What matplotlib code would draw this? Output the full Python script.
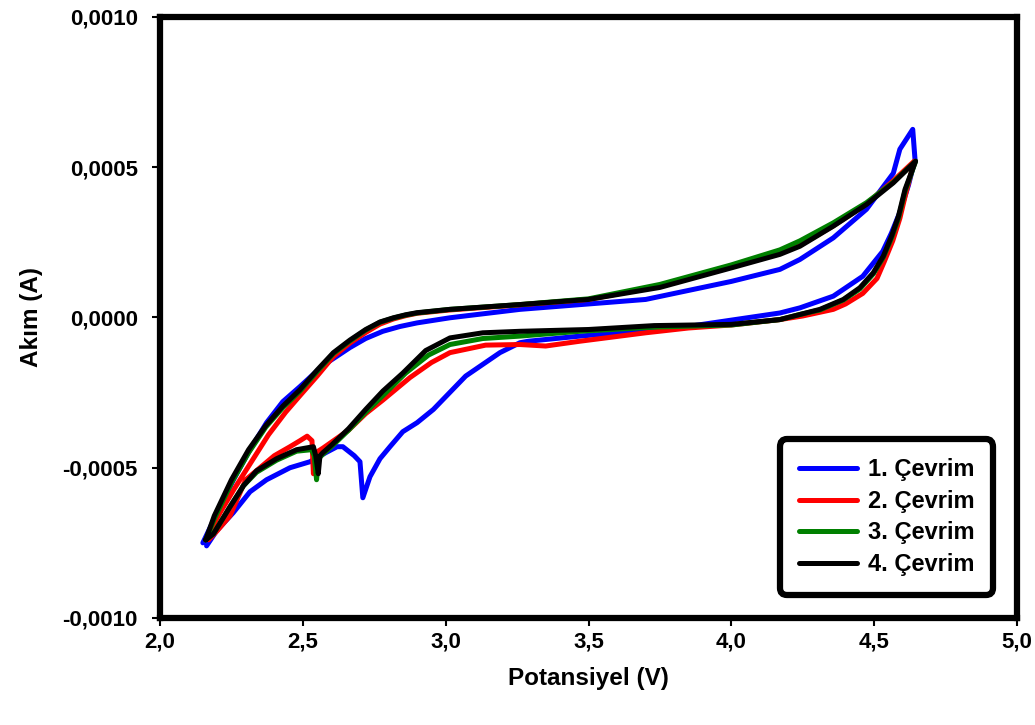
import matplotlib
matplotlib.use('Agg')
import matplotlib.pyplot as plt
import numpy as np

plt.rcParams['font.family'] = ['Liberation Sans', 'DejaVu Sans']
plt.rcParams['font.weight'] = 'bold'

# potential (V) and current (x1e-4 A), loop order:
# anodic sweep 2.16 -> 4.64, then cathodic sweep back to 2.16
v1 = [2.15, 2.21, 2.257, 2.315, 2.373, 2.43, 2.49, 2.57, 2.665, 2.72, 2.78, 2.84, 2.90, 3.015, 3.26,
      3.5, 3.7, 4.0, 4.17, 4.24, 4.357, 4.473, 4.567, 4.59, 4.635,
      4.643, 4.62, 4.59, 4.56, 4.53, 4.46, 4.357, 4.24, 4.17, 3.82, 3.47, 3.29, 3.26, 3.19, 3.07, 2.957,
      2.90, 2.85, 2.805, 2.77, 2.735, 2.71, 2.70, 2.68, 2.64, 2.62, 2.58, 2.525, 2.455, 2.373, 2.315,
      2.256, 2.198, 2.163]
i1 = [-7.5, -6.3, -5.4, -4.4, -3.5, -2.8, -2.3, -1.6, -1.0, -0.7, -0.46, -0.3, -0.18, -0.01, 0.27,
      0.45, 0.6, 1.2, 1.6, 1.93, 2.65, 3.6, 4.8, 5.6, 6.26,
      5.26, 4.4, 3.5, 2.8, 2.2, 1.37, 0.71, 0.32, 0.15, -0.34, -0.62, -0.79, -0.84, -1.17, -1.95, -3.06,
      -3.5, -3.8, -4.3, -4.7, -5.3, -6.0, -4.8, -4.6, -4.3, -4.3, -4.5, -4.8, -5.0, -5.4, -5.8,
      -6.5, -7.1, -7.6]

v2 = [2.17, 2.21, 2.26, 2.32, 2.38, 2.44, 2.49, 2.55, 2.607, 2.665, 2.72, 2.77, 2.817, 2.86, 2.90,
      3.015, 3.26, 3.5, 3.75, 4.0, 4.17, 4.24, 4.357, 4.473, 4.567, 4.64,
      4.61, 4.59, 4.565, 4.535, 4.51, 4.46, 4.40, 4.357, 4.25, 4.17, 4.0, 3.85, 3.70, 3.47, 3.35, 3.26,
      3.14, 3.015, 2.95, 2.875, 2.78, 2.72, 2.66, 2.60, 2.57, 2.545, 2.537, 2.532, 2.515, 2.49, 2.455,
      2.40, 2.35, 2.30, 2.245, 2.20, 2.17]
i2 = [-7.2, -6.5, -5.7, -4.8, -3.9, -3.15, -2.6, -1.95, -1.3, -0.85, -0.5, -0.22, -0.05, 0.06, 0.14,
      0.25, 0.42, 0.6, 1.05, 1.7, 2.15, 2.4, 3.05, 3.78, 4.55, 5.2,
      4.1, 3.3, 2.55, 1.85, 1.3, 0.8, 0.45, 0.27, 0.05, -0.07, -0.25, -0.35, -0.51, -0.79, -0.95, -0.9,
      -0.92, -1.17, -1.5, -2.0, -2.75, -3.2, -3.75, -4.15, -4.35, -4.5, -5.2, -4.1, -3.95, -4.1, -4.3,
      -4.6, -5.0, -5.4, -6.6, -7.1, -7.4]

v3 = [2.16, 2.19, 2.25, 2.31, 2.37, 2.43, 2.49, 2.55, 2.607, 2.665, 2.72, 2.77, 2.817, 2.86, 2.90,
      3.015, 3.26, 3.5, 3.75, 4.0, 4.17, 4.24, 4.357, 4.473, 4.567, 4.645,
      4.608, 4.585, 4.561, 4.532, 4.497, 4.45, 4.392, 4.31, 4.24, 4.17, 4.0, 3.73, 3.47, 3.26, 3.13,
      3.015, 2.94, 2.86, 2.78, 2.72, 2.66, 2.60, 2.57, 2.555, 2.548, 2.54, 2.53, 2.478, 2.408, 2.338,
      2.292, 2.245, 2.187, 2.16]
i3 = [-7.4, -6.7, -5.5, -4.5, -3.65, -3.0, -2.45, -1.8, -1.2, -0.78, -0.42, -0.16, -0.02, 0.08, 0.15,
      0.27, 0.43, 0.62, 1.1, 1.75, 2.25, 2.55, 3.15, 3.82, 4.5, 5.2,
      4.2, 3.3, 2.65, 2.0, 1.45, 0.95, 0.58, 0.25, 0.1, -0.07, -0.25, -0.32, -0.46, -0.62, -0.7,
      -0.9, -1.25, -1.85, -2.6, -3.15, -3.75, -4.3, -4.55, -4.7, -5.4, -4.6, -4.4, -4.45, -4.75, -5.15,
      -5.6, -6.3, -7.2, -7.4]

v4 = [2.16, 2.19, 2.25, 2.31, 2.37, 2.43, 2.49, 2.55, 2.607, 2.665, 2.72, 2.77, 2.817, 2.86, 2.90,
      3.015, 3.26, 3.5, 3.75, 4.0, 4.17, 4.24, 4.357, 4.473, 4.567, 4.645,
      4.608, 4.585, 4.561, 4.532, 4.497, 4.45, 4.392, 4.31, 4.24, 4.17, 4.0, 3.73, 3.5, 3.26, 3.13,
      3.015, 2.93, 2.85, 2.78, 2.72, 2.66, 2.60, 2.57, 2.56, 2.554, 2.545, 2.537, 2.478, 2.408, 2.338,
      2.292, 2.245, 2.187, 2.16]
i4 = [-7.4, -6.6, -5.4, -4.4, -3.6, -2.95, -2.4, -1.75, -1.17, -0.75, -0.4, -0.15, -0.01, 0.09, 0.16,
      0.27, 0.43, 0.6, 1.0, 1.65, 2.1, 2.37, 3.04, 3.76, 4.48, 5.2,
      4.26, 3.37, 2.71, 2.04, 1.49, 0.99, 0.6, 0.27, 0.1, -0.07, -0.23, -0.27, -0.4, -0.46, -0.51,
      -0.68, -1.1, -1.85, -2.45, -3.06, -3.7, -4.25, -4.5, -4.6, -5.2, -4.6, -4.3, -4.4, -4.7, -5.1,
      -5.6, -6.3, -7.2, -7.4]

labels = ['1. Çevrim', '2. Çevrim', '3. Çevrim', '4. Çevrim']
colors = ['#0000ff', '#ff0000', '#008000', '#000000']

fig = plt.figure(figsize=(10.35, 7.25), dpi=100)
ax = fig.add_axes([0.1546, 0.1476, 0.828, 0.829])

for v, i, lab, c in zip([v1, v2, v3, v4], [i1, i2, i3, i4], labels, colors):
    ax.plot(v, np.array(i) * 1e-4, color=c, lw=3.6, label=lab,
            solid_joinstyle='round', solid_capstyle='round')

ax.set_xlim(2.0, 5.0)
ax.set_ylim(-0.001, 0.001)
xt = np.arange(2.0, 5.01, 0.5)
yt = [-0.001, -0.0005, 0.0, 0.0005, 0.001]
ax.set_xticks(xt)
ax.set_xticklabels([f'{t:.1f}'.replace('.', ',') for t in xt])
ax.set_yticks(yt)
ax.set_yticklabels([f'{t:.4f}'.replace('.', ',').replace('-0,0000', '0,0000') for t in yt])
ax.tick_params(direction='out', length=6, width=1.5, labelsize=16)
ax.tick_params(axis='y', pad=10)
ax.tick_params(axis='x', pad=4)
for s in ax.spines.values():
    s.set_linewidth(4.5)

ax.set_xlabel('Potansiyel (V)', fontsize=17.5, fontweight='bold', labelpad=10)
ax.set_ylabel('Akım (A)', fontsize=17.5, fontweight='bold', labelpad=14)

leg = ax.legend(loc='lower right', bbox_to_anchor=(0.986, 0.019), fontsize=17,
                handlelength=2.45, frameon=True, fancybox=True, framealpha=1,
                borderpad=0.8, labelspacing=0.36, handletextpad=0.45)
leg.get_frame().set_edgecolor('black')
leg.get_frame().set_linewidth(4.5)
leg.get_frame().set_boxstyle('round,pad=0.0,rounding_size=0.3')
for t in leg.get_texts():
    t.set_fontweight('bold')

fig.savefig('out.png', dpi=100)
